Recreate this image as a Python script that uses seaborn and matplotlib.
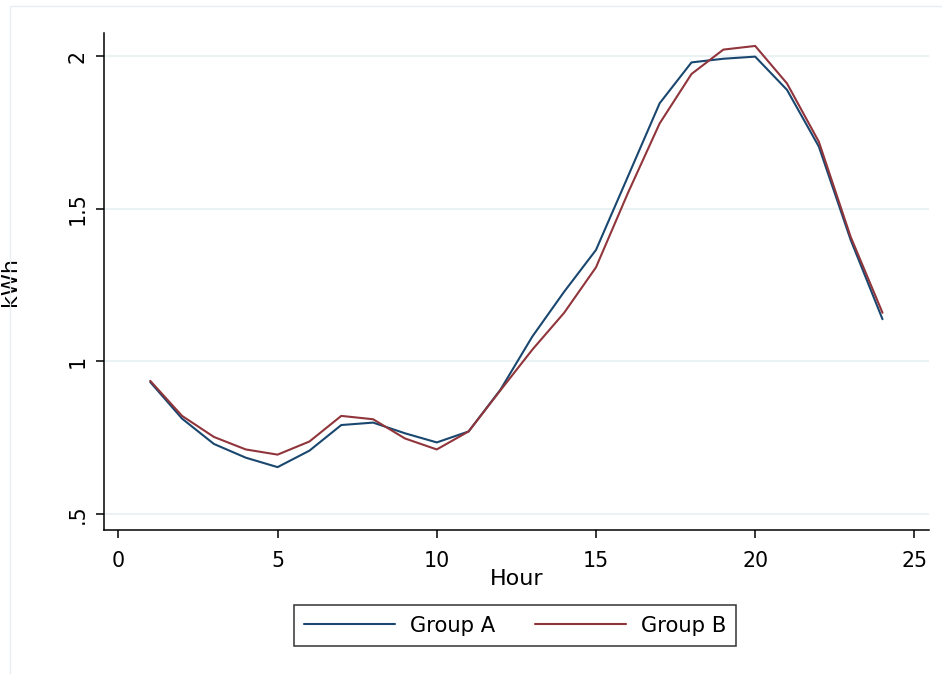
import numpy as np
import pandas as pd
import matplotlib
matplotlib.use("Agg")
import matplotlib.pyplot as plt
from matplotlib.patches import Rectangle
import seaborn as sns

# Hourly average consumption profiles
hours = list(range(1, 25))
group_a = [0.932, 0.812, 0.729, 0.684, 0.653, 0.707, 0.791, 0.799, 0.764, 0.734, 0.770, 0.907,
           1.081, 1.228, 1.365, 1.605, 1.846, 1.980, 1.992, 1.999, 1.890, 1.704, 1.398, 1.138]
group_b = [0.936, 0.821, 0.752, 0.711, 0.694, 0.737, 0.821, 0.810, 0.747, 0.711, 0.770, 0.905,
           1.038, 1.159, 1.308, 1.551, 1.780, 1.942, 2.022, 2.034, 1.911, 1.720, 1.408, 1.159]
group_names = ["Group A", "Group B"]
x_ticks = [0, 5, 10, 15, 20, 25]
y_ticks = [0.5, 1.0, 1.5, 2.0]
y_tick_labels = [".5", "1", "1.5", "2"]

df = pd.DataFrame({
    "Hour": hours * 2,
    "kWh": group_a + group_b,
    "Group": [group_names[0]] * len(hours) + [group_names[1]] * len(hours),
})

sns.set_theme(style="white")
plt.rcParams["font.family"] = ["DejaVu Sans"]
plt.rcParams["text.color"] = "black"
plt.rcParams["axes.labelcolor"] = "black"

navy = "#1a476f"
maroon = "#90353b"
grid_col = "#eaf2f3"

W, H = 942, 674
fig = plt.figure(figsize=(W / 100, H / 100), dpi=100)
fig.patch.set_facecolor("white")

# outer graph-region border
fig.patches.append(Rectangle((10 / W, -0.2), 2.0, 1 - 6 / H + 0.2, transform=fig.transFigure,
                             fill=False, edgecolor="#e6eef0", linewidth=1.0, zorder=0))

ax = fig.add_axes([104 / W, 1 - 529.5 / H, 825 / W, 496 / H])
ax.set_facecolor("white")

sns.lineplot(data=df, x="Hour", y="kWh", hue="Group", palette=[navy, maroon],
             linewidth=1.5, ax=ax, legend=True)

ax.set_xlim(-0.452, 25.46)
ax.set_ylim(0.4485, 2.0748)
ax.set_xticks(x_ticks)
ax.set_xticklabels([str(t) for t in x_ticks])
ax.set_yticks(y_ticks)
ax.set_yticklabels(y_tick_labels, rotation=90, va="center")

ax.yaxis.grid(True, color=grid_col, linewidth=1.4)
ax.xaxis.grid(False)
ax.set_axisbelow(True)

for side in ["top", "right"]:
    ax.spines[side].set_visible(False)
for side in ["left", "bottom"]:
    ax.spines[side].set_color("black")
    ax.spines[side].set_linewidth(1.1)

ax.tick_params(axis="x", which="major", length=5.8, width=1.1, color="black",
               labelsize=14.8, pad=10.0, bottom=True, labelcolor="black")
ax.tick_params(axis="y", which="major", length=5.8, width=1.1, color="black",
               labelsize=14.8, pad=6.0, left=True, labelcolor="black")

ax.set_xlabel("Hour", fontsize=16, color="black")
ax.set_ylabel("kWh", fontsize=16, color="black")
ax.xaxis.label.set_va("center")
ax.yaxis.label.set_va("center")
ax.xaxis.set_label_coords(0.5, (529.5 - 578.7) / 496)
ax.yaxis.set_label_coords((10.5 - 104) / 825, 0.5)

handles, labels = ax.get_legend_handles_labels()
leg = ax.legend(handles, labels, loc="center", bbox_to_anchor=(515 / W, 1 - 625.5 / H),
                bbox_transform=fig.transFigure, ncol=2, frameon=True, fancybox=False,
                edgecolor="black", fontsize=15.2, handlelength=4.3, handletextpad=0.7,
                columnspacing=1.9, borderpad=0.5, borderaxespad=0)
leg.get_frame().set_linewidth(1.1)
for t in leg.get_texts():
    t.set_color("black")
for line in leg.get_lines():
    line.set_linewidth(1.5)

fig.savefig("out.png", dpi=100, facecolor="white")
